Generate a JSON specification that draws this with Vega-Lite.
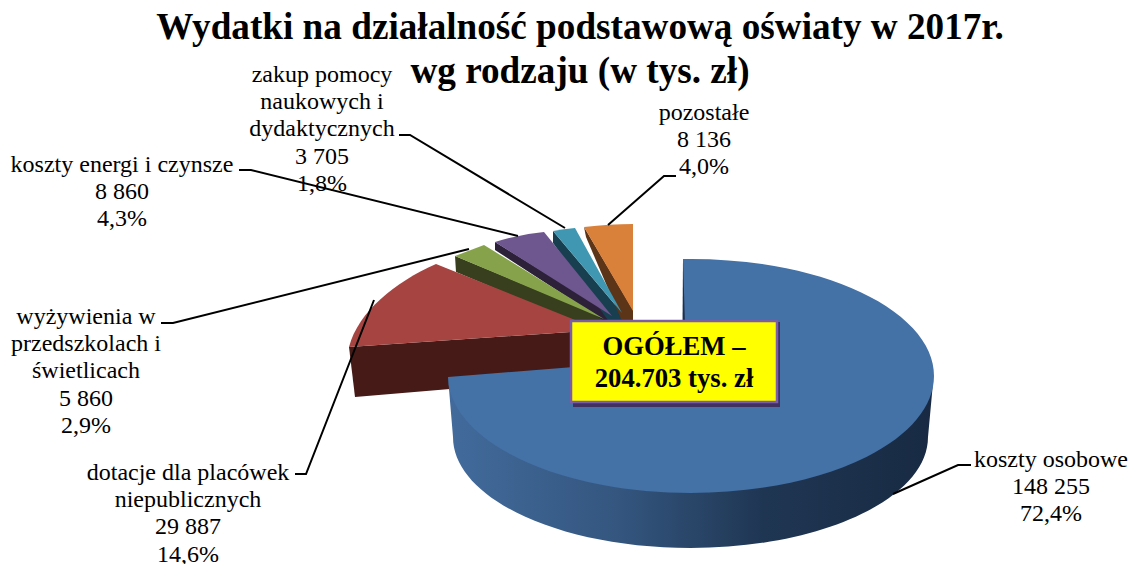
{"$schema":"https://vega.github.io/schema/vega-lite/v6.json","width":1130,"height":564,"autosize":{"type":"none"},"padding":0,"background":"white","config":{"view":{"stroke":null}},
"title":{"text":["Wydatki na działalność podstawową oświaty w 2017r.","wg rodzaju (w tys. zł)"],"font":"Liberation Serif","fontSize":37.2,"fontWeight":"bold","color":"black","lineHeight":44,"anchor":"middle","dx":15,"offset":-91},
"datasets":{"slices":[
{"category":"dotacje dla placówek niepublicznych","value":29887,"share":14.6,"label":"dotacje dla placówek\nniepublicznych\n29 887\n14,6%"},
{"category":"wyżywienia w przedszkolach i świetlicach","value":5860,"share":2.9,"label":"wyżywienia w\nprzedszkolach i\nświetlicach\n5 860\n2,9%"},
{"category":"koszty energi i czynsze","value":8860,"share":4.3,"label":"koszty energi i czynsze\n8 860\n4,3%"},
{"category":"zakup pomocy naukowych i dydaktycznych","value":3705,"share":1.8,"label":"zakup pomocy\nnaukowych i\ndydaktycznych\n3 705\n1,8%"},
{"category":"pozostałe","value":8136,"share":4.0,"label":"pozostałe\n8 136\n4,0%"},
{"category":"koszty osobowe","value":148255,"share":72.4,"label":"koszty osobowe\n148 255\n72,4%"}],
"total":[{"label":"OGÓŁEM –\n204.703 tys. zł"}]},
"data":{"name":"slices"},
"encoding":{"x":{"datum":0,"type":"quantitative","scale":{"domain":[0,1130],"range":[0,1130]},"axis":null},"y":{"datum":0,"type":"quantitative","scale":{"domain":[0,564],"range":[0,564]},"axis":null}},
"resolve":{"scale":{"shape":"independent","color":"independent"}},
"layer":[
{"transform":[{"filter":"datum.category !== 'koszty osobowe'"}],"mark":{"type":"point","filled":true,"opacity":1,"size":4,"strokeWidth":0},
"encoding":{"shape":{"field":"category","type":"nominal","legend":null,"scale":{"domain":["dotacje dla placówek niepublicznych","wyżywienia w przedszkolach i świetlicach","koszty energi i czynsze","zakup pomocy naukowych i dydaktycznych","pozostałe"],"range":["M349 347L355 397L450 389L600 376L600 330Z","M455 256L456 272L605 335L605 318Z","M495 242L495 250L612 326L612 314Z","M553 231L553 243L612 326L622 326L622 313Z","M584 227L586 237L624 326L633 326L633 310Z"]}},
"color":{"field":"category","type":"nominal","legend":null,"scale":{"domain":["dotacje dla placówek niepublicznych","wyżywienia w przedszkolach i świetlicach","koszty energi i czynsze","zakup pomocy naukowych i dydaktycznych","pozostałe"],"range":["#451a17","#373f1e","#2c2139","#173f4f","#5c3418"]}}}},
{"transform":[{"filter":"datum.category !== 'koszty osobowe'"}],"mark":{"type":"point","filled":true,"opacity":1,"size":4,"strokeWidth":0},
"encoding":{"shape":{"field":"category","type":"nominal","legend":null,"scale":{"domain":["dotacje dla placówek niepublicznych","wyżywienia w przedszkolach i świetlicach","koszty energi i czynsze","zakup pomocy naukowych i dydaktycznych","pozostałe"],"range":["M436 264C395 282 358 312 349 347L600 330Z","M484 245L455 256L604 319Z","M544 232Q520 234 495 242L612 316Z","M553 231Q564 229 575 228L622 313Z","M584 227Q610 224 633 224L633 311Z"]}},
"color":{"field":"category","type":"nominal","legend":null,"scale":{"domain":["dotacje dla placówek niepublicznych","wyżywienia w przedszkolach i świetlicach","koszty energi i czynsze","zakup pomocy naukowych i dydaktycznych","pozostałe"],"range":["#a54441","#86a34c","#6e568f","#3f97b1","#d9813b"]}}}},
{"transform":[{"filter":"datum.category === 'koszty osobowe'"}],"mark":{"type":"point","filled":true,"opacity":1,"size":4,"strokeWidth":0,"shape":"M448 377L453 437A237.5 111 0 0 0 928 437L933 383A243 117 0 0 1 448 377Z","fill":{"gradient":"linear","x1":0,"y1":0,"x2":1,"y2":0,"stops":[{"offset":0,"color":"#426b9c"},{"offset":0.35,"color":"#34567f"},{"offset":0.65,"color":"#1f3653"},{"offset":1,"color":"#182a43"}]}}},
{"transform":[{"filter":"datum.category === 'koszty osobowe'"}],"mark":{"type":"point","filled":true,"opacity":1,"size":4,"strokeWidth":0,"fill":"#1c3050","shape":"M683 259L682.5 325L688 325L685 262Z"}},
{"transform":[{"filter":"datum.category === 'koszty osobowe'"}],"mark":{"type":"point","filled":true,"opacity":1,"size":4,"strokeWidth":0,"fill":"#4471a6","shape":"M683 259A243 117 0 1 1 448 377L686 358Z"}},
{"mark":{"type":"point","filled":false,"opacity":1,"size":4,"stroke":"black","strokeWidth":2},
"encoding":{"shape":{"field":"category","type":"nominal","legend":null,"scale":{"domain":["koszty osobowe","dotacje dla placówek niepublicznych","wyżywienia w przedszkolach i świetlicach","koszty energi i czynsze","zakup pomocy naukowych i dydaktycznych","pozostałe"],"range":["M893 494L958 465L971 465","M295 474L306 474L374 300","M161 323L173 323L469 249","M239 170L251 170L518 236","M399 135L410 135L565 228","M608 225L664 176L676 176"]}}}},
{"data":{"name":"total"},"mark":{"type":"point","filled":true,"opacity":1,"size":4,"strokeWidth":0,"fill":"#3f3060","shape":"M573 322H780V407H573Z"}},
{"data":{"name":"total"},"mark":{"type":"point","filled":true,"opacity":1,"size":4,"fill":"#ffff00","stroke":"#7b5ea7","strokeWidth":2.5,"shape":"M571 321H777V402H571Z"}},
{"data":{"name":"total"},"mark":{"type":"text","font":"Liberation Serif","fontSize":26.7,"fontWeight":"bold","color":"black","lineBreak":"\n","lineHeight":32,"align":"center","baseline":"middle"},"encoding":{"text":{"field":"label","type":"nominal"},"x":{"datum":674},"y":{"datum":347}}},
{"transform":[{"filter":"datum.category === 'koszty osobowe'"}],"mark":{"type":"text","font":"Liberation Serif","fontSize":24,"color":"black","lineBreak":"\n","lineHeight":27.2,"align":"center","baseline":"middle"},"encoding":{"text":{"field":"label","type":"nominal"},"x":{"datum":1051},"y":{"datum":460}}},
{"transform":[{"filter":"datum.category === 'pozostałe'"}],"mark":{"type":"text","font":"Liberation Serif","fontSize":24,"color":"black","lineBreak":"\n","lineHeight":27.2,"align":"center","baseline":"middle"},"encoding":{"text":{"field":"label","type":"nominal"},"x":{"datum":704},"y":{"datum":113}}},
{"transform":[{"filter":"datum.category === 'zakup pomocy naukowych i dydaktycznych'"}],"mark":{"type":"text","font":"Liberation Serif","fontSize":24,"color":"black","lineBreak":"\n","lineHeight":27.2,"align":"center","baseline":"middle"},"encoding":{"text":{"field":"label","type":"nominal"},"x":{"datum":322},"y":{"datum":75}}},
{"transform":[{"filter":"datum.category === 'koszty energi i czynsze'"}],"mark":{"type":"text","font":"Liberation Serif","fontSize":24,"color":"black","lineBreak":"\n","lineHeight":27.2,"align":"center","baseline":"middle"},"encoding":{"text":{"field":"label","type":"nominal"},"x":{"datum":122},"y":{"datum":165}}},
{"transform":[{"filter":"datum.category === 'wyżywienia w przedszkolach i świetlicach'"}],"mark":{"type":"text","font":"Liberation Serif","fontSize":24,"color":"black","lineBreak":"\n","lineHeight":27.2,"align":"center","baseline":"middle"},"encoding":{"text":{"field":"label","type":"nominal"},"x":{"datum":86},"y":{"datum":317}}},
{"transform":[{"filter":"datum.category === 'dotacje dla placówek niepublicznych'"}],"mark":{"type":"text","font":"Liberation Serif","fontSize":24,"color":"black","lineBreak":"\n","lineHeight":27.2,"align":"center","baseline":"middle"},"encoding":{"text":{"field":"label","type":"nominal"},"x":{"datum":188},"y":{"datum":473}}}
]}
